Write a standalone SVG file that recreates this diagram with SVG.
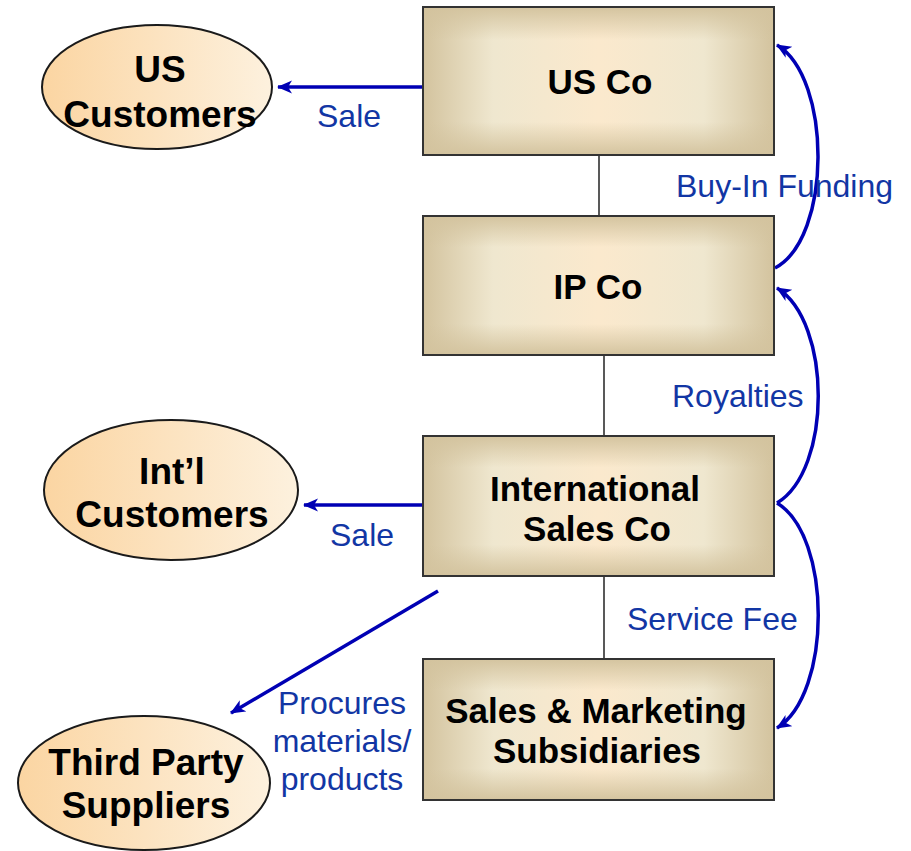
<svg xmlns="http://www.w3.org/2000/svg" width="911" height="851" viewBox="0 0 911 851">
<defs>
<linearGradient id="boxH" x1="0" y1="0" x2="1" y2="0">
<stop offset="0" stop-color="#d3c39e"/>
<stop offset="0.2" stop-color="#efe7cf"/>
<stop offset="0.5" stop-color="#fbe9cd"/>
<stop offset="0.8" stop-color="#efe7cf"/>
<stop offset="1" stop-color="#d3c39e"/>
</linearGradient>
<linearGradient id="boxV" x1="0" y1="0" x2="0" y2="1">
<stop offset="0" stop-color="#d3c39e" stop-opacity="0.95"/>
<stop offset="0.22" stop-color="#d3c39e" stop-opacity="0"/>
<stop offset="0.78" stop-color="#d3c39e" stop-opacity="0"/>
<stop offset="1" stop-color="#d3c39e" stop-opacity="0.95"/>
</linearGradient>
<linearGradient id="ell" x1="0" y1="0" x2="1" y2="0">
<stop offset="0" stop-color="#fbd5a2"/>
<stop offset="1" stop-color="#fdf1de"/>
</linearGradient>
<marker id="ah" markerUnits="userSpaceOnUse" markerWidth="18" markerHeight="16" refX="14" refY="6.5" orient="auto">
<path d="M0,0 L15,6.5 L0,13 L4,6.5 Z" fill="#0000b4"/>
</marker>
<style>
.box{stroke:#333;stroke-width:2}
.ov{fill:url(#boxV);stroke:none}
.el{fill:url(#ell);stroke:#1a1a1a;stroke-width:2}
.bt{font-family:"Liberation Sans",Arial,sans-serif;font-weight:bold;font-size:35px;fill:#000;text-anchor:middle}
.et{font-size:37px}
.lb{font-family:"Liberation Sans",Arial,sans-serif;font-size:32px;fill:#1236a4}
.ar{stroke:#0000b4;stroke-width:3.5;fill:none;marker-end:url(#ah)}
.ln{stroke:#222;stroke-width:1.5}
</style>
</defs>
<rect width="911" height="851" fill="#fff"/>

<g id="connectors">
<line class="ln" x1="599" y1="155" x2="599" y2="216"/>
<line class="ln" x1="604" y1="355" x2="604" y2="436"/>
<line class="ln" x1="604" y1="577" x2="604" y2="659"/>
<line class="ar" x1="423" y1="87" x2="278" y2="87"/>
<line class="ar" x1="423" y1="505" x2="304" y2="505"/>
<line class="ar" x1="438" y1="591" x2="231" y2="713"/>
<path class="ar" d="M775,268 C832,238 832,78 777,45"/>
<path class="ar" d="M777,503 C832,470 832,322 777,288"/>
<path class="ar" d="M777,503 C832,536 832,694 777,728"/>
<text class="lb" x="317" y="127">Sale</text>
<text class="lb" x="330" y="546">Sale</text>
<text class="lb" x="676" y="197">Buy-In Funding</text>
<text class="lb" x="672" y="407">Royalties</text>
<text class="lb" x="627" y="630">Service Fee</text>
<text class="lb" x="342" y="714" text-anchor="middle">Procures</text>
<text class="lb" x="342" y="752" text-anchor="middle">materials/</text>
<text class="lb" x="342" y="790" text-anchor="middle">products</text>
</g>

<g id="us-co">
<rect class="box" x="423" y="7" width="351" height="148" fill="url(#boxH)"/>
<rect class="ov" x="424" y="8" width="349" height="146"/>
<text class="bt" x="600" y="94">US Co</text>
</g>
<g id="ip-co">
<rect class="box" x="423" y="216" width="351" height="139" fill="url(#boxH)"/>
<rect class="ov" x="424" y="217" width="349" height="137"/>
<text class="bt" x="598" y="299">IP Co</text>
</g>
<g id="intl-sales-co">
<rect class="box" x="423" y="436" width="351" height="140" fill="url(#boxH)"/>
<rect class="ov" x="424" y="437" width="349" height="138"/>
<text class="bt" x="595" y="501">International</text>
<text class="bt" x="597" y="541">Sales Co</text>
</g>
<g id="sales-marketing">
<rect class="box" x="423" y="659" width="351" height="141" fill="url(#boxH)"/>
<rect class="ov" x="424" y="660" width="349" height="139"/>
<text class="bt" x="596" y="723">Sales &amp; Marketing</text>
<text class="bt" x="597" y="763">Subsidiaries</text>
</g>
<g id="us-customers">
<ellipse class="el" cx="157" cy="87" rx="115" ry="62"/>
<text class="bt et" x="160" y="82">US</text>
<text class="bt et" x="160" y="127">Customers</text>
</g>
<g id="intl-customers">
<ellipse class="el" cx="171" cy="490" rx="127" ry="70"/>
<text class="bt et" x="172" y="484">Int’l</text>
<text class="bt et" x="172" y="527">Customers</text>
</g>
<g id="third-party">
<ellipse class="el" cx="144" cy="783" rx="126" ry="67"/>
<text class="bt et" x="146" y="775">Third Party</text>
<text class="bt et" x="146" y="818">Suppliers</text>
</g>
</svg>
